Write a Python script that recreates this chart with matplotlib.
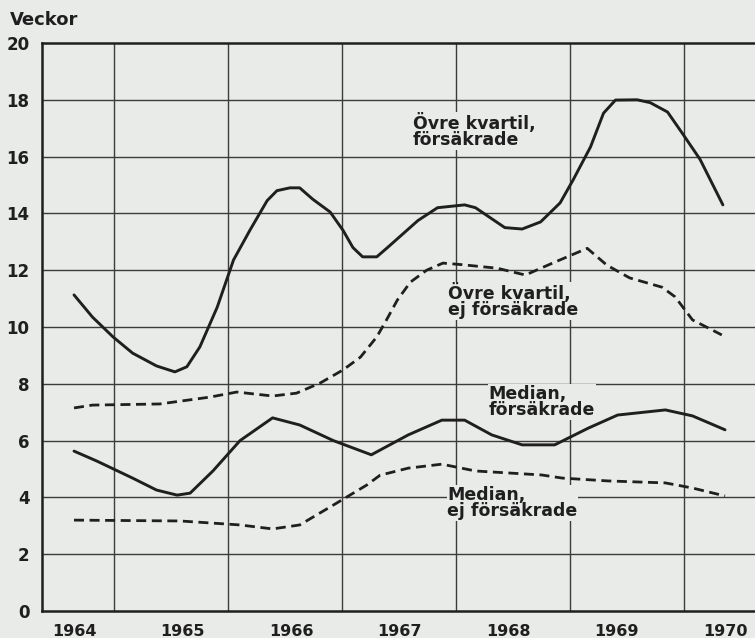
import matplotlib
matplotlib.use("Agg")
import matplotlib.pyplot as plt

# ---- data ----
years = [1964, 1965, 1966, 1967, 1968, 1969, 1970]
yticks = [0, 2, 4, 6, 8, 10, 12, 14, 16, 18, 20]
grid_x = [1964.37, 1965.42, 1966.47, 1967.52, 1968.57, 1969.62]

uq_ins_x = [1964.0, 1964.17, 1964.36, 1964.54, 1964.76, 1964.93, 1965.04, 1965.16, 1965.32,
            1965.47, 1965.62, 1965.78, 1965.87, 1965.99, 1966.08, 1966.20, 1966.36, 1966.48,
            1966.57, 1966.66, 1966.79, 1966.89, 1967.17, 1967.35, 1967.60, 1967.70, 1967.97,
            1968.13, 1968.30, 1968.48, 1968.60, 1968.76, 1968.88, 1968.99, 1969.19, 1969.31,
            1969.47, 1969.61, 1969.77, 1969.98]
uq_ins_y = [11.13, 10.35, 9.65, 9.08, 8.63, 8.42, 8.6, 9.3, 10.7,
            12.36, 13.4, 14.45, 14.8, 14.9, 14.9, 14.5, 14.05, 13.4,
            12.8, 12.47, 12.47, 12.8, 13.75, 14.2, 14.3, 14.2, 13.5,
            13.45, 13.7, 14.37, 15.18, 16.34, 17.53, 17.99, 18.0, 17.9,
            17.57, 16.8, 15.9, 14.3]

uq_un_x = [1964.0, 1964.17, 1964.79, 1965.25, 1965.50, 1965.83, 1966.05, 1966.27, 1966.48,
           1966.64, 1966.79, 1966.88, 1966.98, 1967.10, 1967.25, 1967.40, 1967.56, 1967.90,
           1968.16, 1968.41, 1968.73, 1968.91, 1969.12, 1969.42, 1969.54, 1969.70, 1969.97]
uq_un_y = [7.15, 7.25, 7.29, 7.53, 7.71, 7.57, 7.67, 8.03, 8.49,
           8.94, 9.65, 10.25, 10.95, 11.58, 12.0, 12.25, 12.2, 12.07,
           11.83, 12.25, 12.77, 12.18, 11.73, 11.4, 11.06, 10.25, 9.72]

med_ins_x = [1964.0, 1964.21, 1964.54, 1964.76, 1964.95, 1965.07, 1965.28, 1965.53, 1965.83,
             1966.08, 1966.39, 1966.74, 1967.08, 1967.39, 1967.60, 1967.85, 1968.13, 1968.43,
             1968.74, 1969.01, 1969.45, 1969.70, 1970.0]
med_ins_y = [5.63, 5.28, 4.68, 4.26, 4.08, 4.15, 4.93, 6.0, 6.8,
             6.55, 6.0, 5.5, 6.2, 6.72, 6.72, 6.2, 5.85, 5.85,
             6.44, 6.9, 7.08, 6.87, 6.38]

med_un_x = [1964.0, 1964.98, 1965.53, 1965.83, 1966.08, 1966.39, 1966.70, 1966.82, 1967.08,
            1967.39, 1967.70, 1968.31, 1968.50, 1968.92, 1969.45, 1969.70, 1970.0]
med_un_y = [3.2, 3.17, 3.03, 2.89, 3.03, 3.73, 4.44, 4.78, 5.03,
            5.17, 4.93, 4.79, 4.68, 4.58, 4.51, 4.33, 4.05]

labels = ["Övre kvartil,\nförsäkrade", "Övre kvartil,\nej försäkrade",
          "Median,\nförsäkrade", "Median,\nej försäkrade"]
label_pos = [(1967.12, 17.55), (1967.45, 11.55), (1967.82, 7.96), (1967.44, 4.4)]

# ---- styling ----
bg = "#e9ebe8"
ink = "#1f1f1f"
gridc = "#3c3c3c"
font = ["DejaVu Sans"]

fig = plt.figure(figsize=(7.55, 6.38), dpi=100, facecolor=bg)
ax = fig.add_axes([42 / 755, 1 - 611 / 638, 1 - 42 / 755, (611 - 43) / 638])
ax.set_facecolor(bg)
ax.set_xlim(1963.705, 1970.276)
ax.set_ylim(0, 20)

for gx in grid_x:
    ax.axvline(gx, color=gridc, lw=1.0, zorder=1)
for gy in yticks[1:-1]:
    ax.axhline(gy, color=gridc, lw=1.0, zorder=1)

ax.plot(uq_ins_x, uq_ins_y, color=ink, lw=2.1, solid_capstyle="round",
        solid_joinstyle="round", zorder=3)
ax.plot(med_ins_x, med_ins_y, color=ink, lw=2.1, solid_capstyle="round",
        solid_joinstyle="round", zorder=3)
ax.plot(uq_un_x, uq_un_y, color=ink, lw=2.0, linestyle=(0, (3.6, 2.0)), zorder=3)
ax.plot(med_un_x, med_un_y, color=ink, lw=2.0, linestyle=(0, (3.6, 2.0)), zorder=3)

for txt, (tx, ty) in zip(labels, label_pos):
    ax.text(tx, ty, txt, fontsize=12.5, fontweight="bold", family=font, color=ink,
            ha="left", va="top", linespacing=0.88, zorder=4,
            bbox=dict(facecolor=bg, edgecolor="none", pad=0.5))

ax.spines["right"].set_visible(False)
for s in ["left", "bottom", "top"]:
    ax.spines[s].set_linewidth(1.8)
    ax.spines[s].set_color(ink)

ax.set_yticks(yticks)
ax.set_yticklabels([str(v) for v in yticks], fontsize=12, fontweight="bold",
                   family=font, color=ink)
ax.set_xticks(years)
ax.set_xticklabels([str(v) for v in years], fontsize=11.5, fontweight="bold",
                   family=font, color=ink)
ax.tick_params(axis="both", length=0)
ax.tick_params(axis="y", pad=9)
ax.tick_params(axis="x", pad=9)

fig.text(10 / 755, 1 - 20 / 638, "Veckor", fontsize=13, fontweight="bold",
         family=font, color=ink, ha="left", va="center")

fig.savefig("out.png", dpi=100, facecolor=bg)
